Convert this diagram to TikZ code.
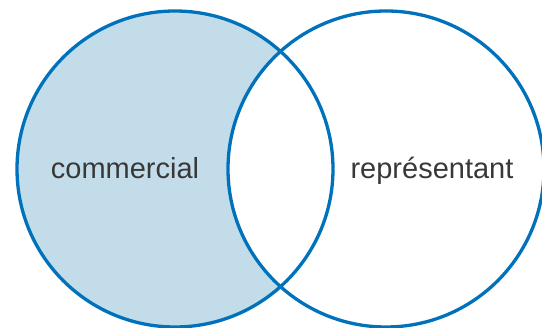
\documentclass[tikz,border=0pt]{standalone}
\usepackage{fontspec}
\setmainfont{Liberation Sans}
\definecolor{vblue}{RGB}{0,114,188}
\definecolor{vfill}{RGB}{195,220,234}
\definecolor{vtext}{RGB}{56,56,56}
\begin{document}
\begin{tikzpicture}[x=1pt,y=-1pt,
  ring/.style={draw=vblue,line width=3.3pt},
  lbl/.style={text=vtext,font=\fontsize{29}{31}\selectfont,anchor=base,inner sep=0pt}]
\useasboundingbox (0,0) rectangle (542,328);
\coordinate (cl) at (175,169);
\coordinate (cr) at (386,169);
\fill[vfill] (cl) circle (158);
\begin{scope}
\clip (cl) circle (158);
\fill[white] (cr) circle (158);
\end{scope}
\draw[ring] (cl) circle (158);
\draw[ring] (cr) circle (158);
\node[lbl] (a) at (125,179) {commercial};
\node[lbl] (b) at (432,179) {représentant};
\end{tikzpicture}
\end{document}
